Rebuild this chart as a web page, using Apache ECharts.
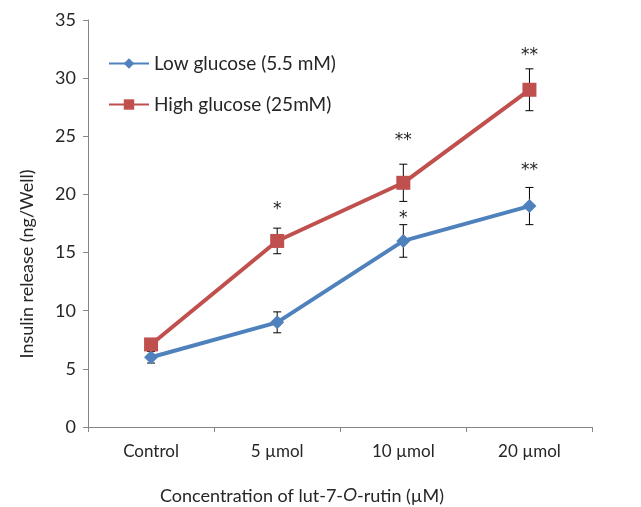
<!DOCTYPE html>
<html><head><meta charset="utf-8">
<script src="https://cdn.jsdelivr.net/npm/echarts@6/dist/echarts.min.js"></script>
<style>html,body{margin:0;padding:0;background:#fff}#c{width:641px;height:507px}</style>
</head><body><div id="c"></div>
<script>
var categories = ['Control', '5 µmol', '10 µmol', '20 µmol'];
var lowName = 'Low glucose (5.5 mM)';
var highName = 'High glucose (25mM)';
var lowValues = [6.0, 9.0, 16.0, 19.0];
var lowErr = [0.5, 0.9, 1.4, 1.6];
var highValues = [7.1, 16.0, 21.0, 29.0];
var highErr = [0.2, 1.1, 1.6, 1.8];
var lowStars = ['', '', '*', '**'];
var lowStarAt = [0, 0, 18.3, 22.4];
var highStars = ['', '*', '**', '**'];
var highStarAt = [0, 19.0, 25.0, 32.3];
var yTicks = [0, 5, 10, 15, 20, 25, 30, 35];

var FONT = 'Lato, "Open Sans", sans-serif';
var BLUE = '#4F81BD', RED = '#C0504D', TXT = '#262626';

function errData(vals, errs, stars, starAt) {
  return vals.map(function (v, i) { return [i, v - errs[i], v + errs[i], starAt[i], stars[i]]; });
}
function renderErr(params, api) {
  var x = api.value(0);
  var lo = api.coord([x, api.value(1)]);
  var hi = api.coord([x, api.value(2)]);
  var w = 4;
  var style = { stroke: '#000', lineWidth: 1 };
  var children = [
    { type: 'line', shape: { x1: hi[0], y1: hi[1], x2: lo[0], y2: lo[1] }, style: style },
    { type: 'line', shape: { x1: hi[0] - w, y1: hi[1], x2: hi[0] + w, y2: hi[1] }, style: style },
    { type: 'line', shape: { x1: lo[0] - w, y1: lo[1], x2: lo[0] + w, y2: lo[1] }, style: style }
  ];
  var star = api.value(4);
  if (star) {
    var sp = api.coord([x, api.value(3)]);
    children.push({ type: 'text', style: { text: star, x: sp[0], y: sp[1] + 4, align: 'center', verticalAlign: 'middle', font: '17px "DejaVu Sans"', fill: '#222' } });
  }
  return { type: 'group', children: children };
}

var chart = echarts.init(document.getElementById('c'), null, { renderer: 'canvas' });
chart.setOption({
  animation: false,
  backgroundColor: '#fff',
  textStyle: { fontFamily: FONT },
  grid: { left: 88, right: 48.5, top: 20, bottom: 80, containLabel: false },
  legend: {
    orient: 'vertical', left: 103, top: 49, itemWidth: 40, itemHeight: 13, itemGap: 22,
    textStyle: { fontSize: 19, color: TXT, fontFamily: FONT },
    data: [lowName, highName]
  },
  xAxis: {
    type: 'category', data: categories, boundaryGap: true,
    axisLine: { lineStyle: { color: '#868686', width: 1 } },
    axisTick: { show: true, length: 5, lineStyle: { color: '#868686' } },
    axisLabel: { fontSize: 17, color: TXT, margin: 16, fontFamily: FONT },
    splitLine: { show: false }
  },
  yAxis: {
    type: 'value', min: yTicks[0], max: yTicks[yTicks.length - 1], interval: 5,
    axisLine: { show: true, lineStyle: { color: '#868686', width: 1 } },
    axisTick: { show: true, length: 5, lineStyle: { color: '#868686' } },
    axisLabel: { fontSize: 18, color: TXT, margin: 12, fontFamily: FONT },
    splitLine: { show: false }
  },
  graphic: [
    { type: 'text', x: 27, y: 264, rotation: Math.PI / 2, style: {
        text: 'Insulin release (ng/Well)', font: '18px ' + FONT, fill: TXT, align: 'center', verticalAlign: 'middle' } },
    { type: 'text', x: 302, y: 496, style: {
        text: '{a|Concentration of lut-7-}{i|O}{a|-rutin (µM)}', align: 'center', verticalAlign: 'middle',
        rich: { a: { fontSize: 18, fontFamily: FONT, fill: TXT },
                i: { fontSize: 18, fontFamily: '"Liberation Sans"', fontStyle: 'italic', fill: TXT } } } }
  ],
  series: [
    { type: 'custom', renderItem: renderErr, data: errData(lowValues, lowErr, lowStars, lowStarAt), z: 1, silent: true },
    { type: 'custom', renderItem: renderErr, data: errData(highValues, highErr, highStars, highStarAt), z: 1, silent: true },
    { name: lowName, type: 'line', data: lowValues, symbol: 'diamond', symbolSize: 14,
      lineStyle: { color: BLUE, width: 4 }, itemStyle: { color: BLUE }, z: 3 },
    { name: highName, type: 'line', data: highValues, symbol: 'rect', symbolSize: 14,
      lineStyle: { color: RED, width: 4 }, itemStyle: { color: RED }, z: 3 }
  ]
});
</script></body></html>
